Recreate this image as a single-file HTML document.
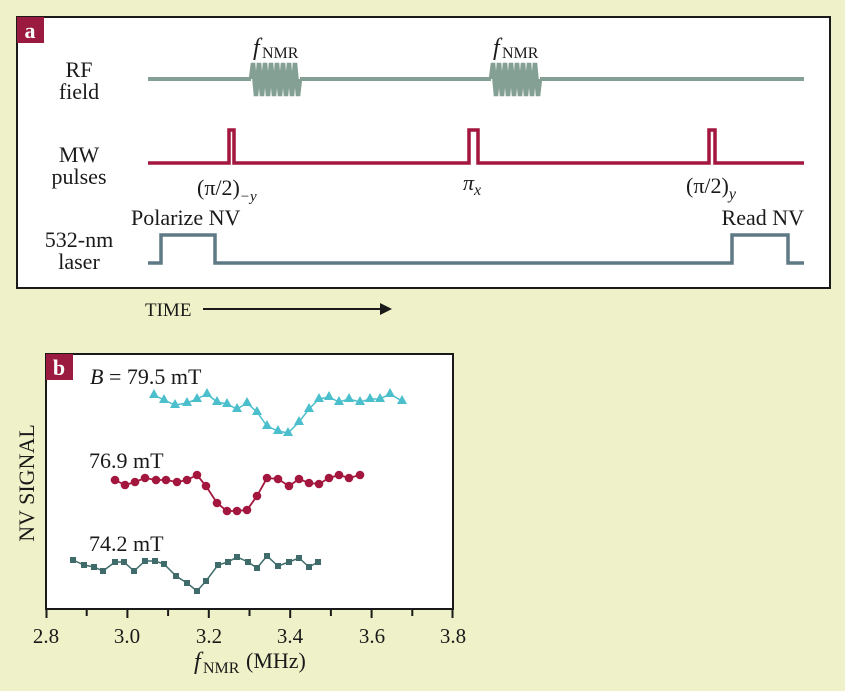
<!DOCTYPE html>
<html><head><meta charset="utf-8"><style>
html,body{margin:0;padding:0;background:#eff2c8;}
svg{display:block;}
text{font-family:"Liberation Serif",serif;fill:#1a1a1a;}
</style></head><body>
<svg width="845" height="691" viewBox="0 0 845 691" xmlns="http://www.w3.org/2000/svg">
<rect x="0" y="0" width="845" height="691" fill="#eff2c8"/>
<!-- Panel a -->
<rect x="17" y="17" width="813" height="271" fill="#fff" stroke="#1a1a1a" stroke-width="2"/>
<rect x="17" y="17" width="27" height="26" fill="#9a1a40"/>
<text x="30" y="38" font-size="22" font-weight="bold" text-anchor="middle" style="fill:#fff">a</text>
<g font-size="22" text-anchor="middle">
<text x="79" y="77">RF</text><text x="79" y="99">field</text>
<text x="79" y="162">MW</text><text x="79" y="184">pulses</text>
<text x="79" y="247">532-nm</text><text x="79" y="269">laser</text>
</g>
<!-- RF -->
<g stroke="#84a095" stroke-width="4" fill="none">
<line x1="148" y1="79" x2="251" y2="79"/><line x1="300" y1="79" x2="491" y2="79"/><line x1="540" y1="79" x2="804" y2="79"/>
<polyline stroke-width="4.5" points="251,79 253,63 256,96 259,63 262,96 265,63 268,96 271,63 274,96 277,63 280,96 283,63 286,96 289,63 292,96 295,63 298,96 300,79"/>
<polyline stroke-width="4.5" points="491,79 493,63 496,96 499,63 502,96 505,63 508,96 511,63 514,96 517,63 520,96 523,63 526,96 529,63 532,96 535,63 538,96 540,79"/>
</g>
<text x="253" y="55" font-size="24" font-style="italic">f</text><text x="262" y="58" font-size="16">NMR</text>
<text x="493" y="55" font-size="24" font-style="italic">f</text><text x="502" y="58" font-size="16">NMR</text>
<!-- MW -->
<polyline fill="none" stroke="#a3173f" stroke-width="3.5" points="148,163 229,163 229,130 234,130 234,163 469,163 469,130 478,130 478,163 709,163 709,130 715,130 715,163 804,163"/>
<text x="197" y="195" font-size="22">(π/2)<tspan font-size="15" font-style="italic" dy="6">−y</tspan></text>
<text x="463" y="190" font-size="22" font-style="italic">π<tspan font-size="16" dy="5">x</tspan></text>
<text x="686" y="193" font-size="22">(π/2)<tspan font-size="16" font-style="italic" dy="6">y</tspan></text>
<!-- laser -->
<polyline fill="none" stroke="#5f7a85" stroke-width="3.5" points="148,263 161,263 161,235 215,235 215,263 732,263 732,235 788,235 788,263 804,263"/>
<text x="131" y="225" font-size="22">Polarize NV</text>
<text x="804" y="225" font-size="22" text-anchor="end">Read NV</text>
<!-- time -->
<text x="145" y="316" font-size="19">TIME</text>
<line x1="203" y1="309" x2="382" y2="309" stroke="#1a1a1a" stroke-width="2"/>
<polygon points="380,303 392,309 380,315" fill="#1a1a1a"/>
<!-- Panel b -->
<rect x="46" y="354" width="407" height="255" fill="#fff" stroke="#1a1a1a" stroke-width="2"/>
<rect x="46" y="354" width="27" height="26" fill="#9a1a40"/>
<text x="59" y="375" font-size="22" font-weight="bold" text-anchor="middle" style="fill:#fff">b</text>
<g stroke="#1a1a1a" stroke-width="2">
<line x1="46.5" y1="609" x2="46.5" y2="618"/><line x1="86.7" y1="609" x2="86.7" y2="616"/><line x1="127.4" y1="609" x2="127.4" y2="618"/><line x1="168.1" y1="609" x2="168.1" y2="616"/><line x1="208.8" y1="609" x2="208.8" y2="618"/><line x1="249.5" y1="609" x2="249.5" y2="616"/><line x1="290.2" y1="609" x2="290.2" y2="618"/><line x1="330.9" y1="609" x2="330.9" y2="616"/><line x1="371.6" y1="609" x2="371.6" y2="618"/><line x1="412.3" y1="609" x2="412.3" y2="616"/><line x1="452.5" y1="609" x2="452.5" y2="618"/>
</g>
<g font-size="21" text-anchor="middle">
<text x="46" y="643">2.8</text><text x="127" y="643">3.0</text><text x="209" y="643">3.2</text><text x="290" y="643">3.4</text><text x="372" y="643">3.6</text><text x="453" y="643">3.8</text>
</g>
<text x="194" y="669" font-size="24" font-style="italic">f</text><text x="203" y="673" font-size="16">NMR</text><text x="246" y="668" font-size="22">(MHz)</text>
<text transform="translate(34,483) rotate(-90)" font-size="22" text-anchor="middle">NV SIGNAL</text>
<text x="90" y="384" font-size="22"><tspan font-style="italic">B</tspan> = 79.5 mT</text>
<text x="89" y="468" font-size="22">76.9 mT</text>
<text x="89" y="551" font-size="22">74.2 mT</text>
<!-- cyan -->
<g fill="#4bbfcc" stroke="#4bbfcc">
<polyline fill="none" stroke-width="1.5" points="154,395 164,400 175,405 187,403 197,399 207,394 217,402 227,404 237,409 247,403 257,412 267,426 278,431 288,433 299,422 309,409 319,399 329,397 339,402 349,399 360,402 370,399 380,399 390,394 402,401"/>
<g stroke="none">
<path d="M154,389l5,9h-10z"/><path d="M164,394l5,9h-10z"/><path d="M175,399l5,9h-10z"/><path d="M187,397l5,9h-10z"/><path d="M197,393l5,9h-10z"/><path d="M207,388l5,9h-10z"/><path d="M217,396l5,9h-10z"/><path d="M227,398l5,9h-10z"/><path d="M237,403l5,9h-10z"/><path d="M247,397l5,9h-10z"/><path d="M257,406l5,9h-10z"/><path d="M267,420l5,9h-10z"/><path d="M278,425l5,9h-10z"/><path d="M288,427l5,9h-10z"/><path d="M299,416l5,9h-10z"/><path d="M309,403l5,9h-10z"/><path d="M319,393l5,9h-10z"/><path d="M329,391l5,9h-10z"/><path d="M339,396l5,9h-10z"/><path d="M349,393l5,9h-10z"/><path d="M360,396l5,9h-10z"/><path d="M370,393l5,9h-10z"/><path d="M380,393l5,9h-10z"/><path d="M390,388l5,9h-10z"/><path d="M402,395l5,9h-10z"/>
</g></g>
<!-- red -->
<g fill="#a3173f">
<polyline fill="none" stroke="#a3173f" stroke-width="1.8" points="115,480 125,485 135,482 145,478 156,480 166,480 177,482 187,480 197,475 206,486 217,503 227,511 237,511 247,510 257,496 267,478 278,479 289,486 299,479 309,483 319,484 329,478 339,475 349,478 360,475"/>
<circle cx="115" cy="480" r="4.3"/><circle cx="125" cy="485" r="4.3"/><circle cx="135" cy="482" r="4.3"/><circle cx="145" cy="478" r="4.3"/><circle cx="156" cy="480" r="4.3"/><circle cx="166" cy="480" r="4.3"/><circle cx="177" cy="482" r="4.3"/><circle cx="187" cy="480" r="4.3"/><circle cx="197" cy="475" r="4.3"/><circle cx="206" cy="486" r="4.3"/><circle cx="217" cy="503" r="4.3"/><circle cx="227" cy="511" r="4.3"/><circle cx="237" cy="511" r="4.3"/><circle cx="247" cy="510" r="4.3"/><circle cx="257" cy="496" r="4.3"/><circle cx="267" cy="478" r="4.3"/><circle cx="278" cy="479" r="4.3"/><circle cx="289" cy="486" r="4.3"/><circle cx="299" cy="479" r="4.3"/><circle cx="309" cy="483" r="4.3"/><circle cx="319" cy="484" r="4.3"/><circle cx="329" cy="478" r="4.3"/><circle cx="339" cy="475" r="4.3"/><circle cx="349" cy="478" r="4.3"/><circle cx="360" cy="475" r="4.3"/>
</g>
<!-- squares -->
<g fill="#3f6b6b">
<polyline fill="none" stroke="#3f6b6b" stroke-width="1.5" points="73,560 84,565 94,567 103,571 115,562 124,562 134,571 145,561 155,561 164,564 176,576 187,583 197,591 206,581 218,565 228,562 237,557 248,562 257,568 267,556 278,566 289,562 299,558 309,567 318,562"/>
<g transform="translate(-3,-3)">
<rect x="73" y="560" width="6" height="6"/><rect x="84" y="565" width="6" height="6"/><rect x="94" y="567" width="6" height="6"/><rect x="103" y="571" width="6" height="6"/><rect x="115" y="562" width="6" height="6"/><rect x="124" y="562" width="6" height="6"/><rect x="134" y="571" width="6" height="6"/><rect x="145" y="561" width="6" height="6"/><rect x="155" y="561" width="6" height="6"/><rect x="164" y="564" width="6" height="6"/><rect x="176" y="576" width="6" height="6"/><rect x="187" y="583" width="6" height="6"/><rect x="197" y="591" width="6" height="6"/><rect x="206" y="581" width="6" height="6"/><rect x="218" y="565" width="6" height="6"/><rect x="228" y="562" width="6" height="6"/><rect x="237" y="557" width="6" height="6"/><rect x="248" y="562" width="6" height="6"/><rect x="257" y="568" width="6" height="6"/><rect x="267" y="556" width="6" height="6"/><rect x="278" y="566" width="6" height="6"/><rect x="289" y="562" width="6" height="6"/><rect x="299" y="558" width="6" height="6"/><rect x="309" y="567" width="6" height="6"/><rect x="318" y="562" width="6" height="6"/>
</g></g>
</svg>
</body></html>
